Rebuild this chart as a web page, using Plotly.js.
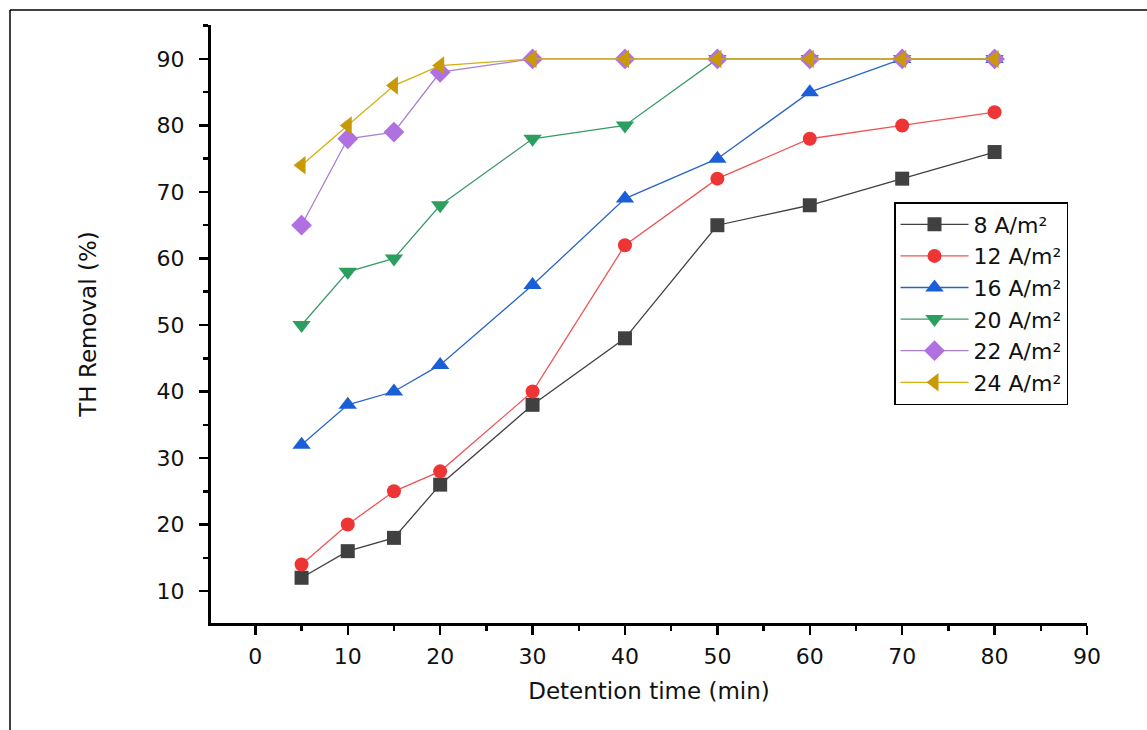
<!DOCTYPE html>
<html>
<head>
<meta charset="utf-8">
<script src="https://cdn.plot.ly/plotly-3.0.1.min.js"></script>
<style>
  html, body { margin: 0; padding: 0; background: #fff; }
  #chart { width: 1147px; height: 730px; }
</style>
</head>
<body>
<div id="chart"></div>
<script>
const detentionTime = [5, 10, 15, 20, 30, 40, 50, 60, 70, 80];

const seriesNames = ['8 A/m²', '12 A/m²', '16 A/m²', '20 A/m²', '22 A/m²', '24 A/m²'];
const removal8  = [12, 16, 18, 26, 38, 48, 65, 68, 72, 76];
const removal12 = [14, 20, 25, 28, 40, 62, 72, 78, 80, 82];
const removal16 = [32, 38, 40, 44, 56, 69, 75, 85, 90, 90];
const removal20 = [50, 58, 60, 68, 78, 80, 90, 90, 90, 90];
const removal22 = [65, 78, 79, 88, 90, 90, 90, 90, 90, 90];
const removal24 = [74, 80, 86, 89, 90, 90, 90, 90, 90, 90];

const xTickVals = [0, 10, 20, 30, 40, 50, 60, 70, 80, 90];
const yTickVals = [10, 20, 30, 40, 50, 60, 70, 80, 90];

const seriesValues = [removal8, removal12, removal16, removal20, removal22, removal24];
const colors = ['#404040', '#ee3535', '#1b5fd8', '#2c9e5e', '#b070e0', '#c99a08'];
const lineColors = ['#404040', '#ee5555', '#2a64c8', '#3a9a68', '#a880d0', '#d2b010'];
const symbols = ['square', 'circle', 'triangle-up', 'triangle-down', 'diamond', 'triangle-left'];
const sizes = [14, 14, 16, 16, 16, 16];

const FONT = 'DejaVu Sans, Arial, sans-serif';

const traces = seriesNames.map((name, i) => ({
  type: 'scatter',
  mode: 'lines+markers',
  name: name,
  x: detentionTime,
  y: seriesValues[i],
  line: { color: lineColors[i], width: 1.3 },
  marker: { symbol: symbols[i], size: sizes[i], color: colors[i], line: { width: 0 } },
  legendgroup: 'g' + i
}));

const axisCommon = {
  showgrid: false,
  zeroline: false,
  showline: true,
  linecolor: '#000',
  linewidth: 3,
  ticks: 'outside',
  ticklen: 9,
  tickwidth: 2.5,
  tickcolor: '#000',
  tickfont: { family: FONT, size: 22, color: '#111' },
  mirror: false
};

const layout = {
  width: 1147,
  height: 730,
  paper_bgcolor: '#fff',
  plot_bgcolor: '#fff',
  margin: { l: 211, r: 60, t: 25, b: 107 },
  showlegend: true,
  legend: {
    x: (894 - 211) / 876,
    y: 1 - (202 - 25) / 598,
    xanchor: 'left',
    yanchor: 'top',
    bgcolor: '#fff',
    bordercolor: '#000',
    borderwidth: 1.5,
    font: { family: FONT, size: 22, color: '#111' },
    itemwidth: 68,
    tracegroupgap: 0
  },
  xaxis: Object.assign({}, axisCommon, {
    range: [-4.8, 90],
    tickvals: xTickVals,
    ticktext: xTickVals.map(String),
    ticklabelstandoff: 3,
    minor: { dtick: 5, tick0: 0, ticks: 'outside', ticklen: 5, tickwidth: 2.5, tickcolor: '#000' },
    title: { text: 'Detention time (min)', font: { family: FONT, size: 23, color: '#111' }, standoff: 15 }
  }),
  yaxis: Object.assign({}, axisCommon, {
    range: [5.2, 95.1],
    tickvals: yTickVals,
    ticktext: yTickVals.map(String),
    ticklabelstandoff: 10,
    minor: { dtick: 5, tick0: 0, ticks: 'outside', ticklen: 5, tickwidth: 2.5, tickcolor: '#000' },
    title: { text: 'TH Removal (%)', font: { family: FONT, size: 23, color: '#111' }, standoff: 54 }
  }),
  shapes: [
    { type: 'line', xref: 'paper', yref: 'paper',
      x0: (10 - 211) / 876, x1: (1160 - 211) / 876,
      y0: 1 + (25 - 10) / 598, y1: 1 + (25 - 10) / 598,
      line: { color: '#000', width: 1.5 } },
    { type: 'line', xref: 'paper', yref: 'paper',
      x0: (10 - 211) / 876, x1: (10 - 211) / 876,
      y0: 1 + (25 - 10) / 598, y1: -(740 - 623) / 598,
      line: { color: '#000', width: 1.5 } }
  ]
};

Plotly.newPlot('chart', traces, layout, { displayModeBar: false, staticPlot: true });
</script>
</body>
</html>
